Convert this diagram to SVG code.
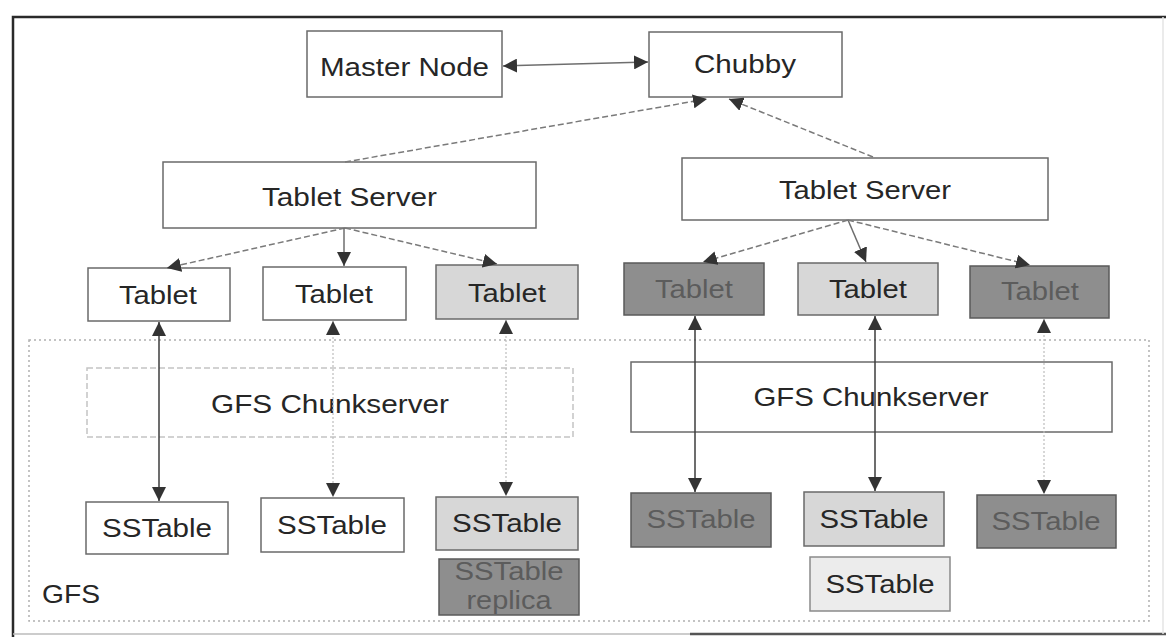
<svg xmlns="http://www.w3.org/2000/svg" width="1166" height="637" viewBox="0 0 1166 637">
<defs>
<style>
.box{fill:#fff;stroke:#6a6a6a;stroke-width:1.5}
.light{fill:#d7d7d7;stroke:#6a6a6a;stroke-width:1.5}
.vlight{fill:#ececec;stroke:#8a8a8a;stroke-width:1.5}
.dark{fill:#8e8e8e;stroke:#5a5a5a;stroke-width:1.5}
.faint{fill:#fff;stroke:#c4c4c4;stroke-width:1.5;stroke-dasharray:6 3}
.region{fill:none;stroke:#b0b0b0;stroke-width:1.5;stroke-dasharray:2 3}
text{font-family:"Liberation Sans",Arial,sans-serif;font-size:26px;fill:#262626;text-anchor:middle}
text.dk{fill:#5c5c5c}
.solid{stroke:#6e6e6e;stroke-width:1.5;fill:none}
.dash{stroke:#7a7a7a;stroke-width:1.5;stroke-dasharray:6 3;fill:none}
.vdark{stroke:#3c3c3c;stroke-width:1.5;fill:none}
.vfaint{stroke:#bdbdbd;stroke-width:1.2;stroke-dasharray:2 2;fill:none}
</style>
<marker id="ah" markerUnits="userSpaceOnUse" markerWidth="14" markerHeight="14" refX="12" refY="6" orient="auto-start-reverse" viewBox="0 0 12 12">
<path d="M0,0 L12,6 L0,12 z" fill="#333"/>
</marker>
</defs>
<rect x="0" y="0" width="1166" height="637" fill="#fff"/>
<g id="frame">
<path d="M13,637 V17 H1166" fill="none" stroke="#2a2a2a" stroke-width="2.5"/>
<path d="M13,634 H690" fill="none" stroke="#bbb" stroke-width="1.5"/>
<path d="M690,634 H1166" fill="none" stroke="#555" stroke-width="2.5"/>
<path d="M1163,17 V634" fill="none" stroke="#e4e4e4" stroke-width="1.5"/>
</g>
<g id="gfs">
<rect class="region" x="29" y="340" width="1120" height="281"/>
<text x="42" y="603" style="text-anchor:start" textLength="58" lengthAdjust="spacingAndGlyphs">GFS</text>
</g>
<g id="master"><rect class="box" x="307" y="31" width="195" height="66"/><text x="404.5" y="76" textLength="169" lengthAdjust="spacingAndGlyphs">Master Node</text></g>
<g id="chubby"><rect class="box" x="649" y="32" width="193" height="65"/><text x="745" y="73" textLength="102" lengthAdjust="spacingAndGlyphs">Chubby</text></g>
<g id="ts1"><rect class="box" x="163" y="162" width="373" height="66"/><text x="349.5" y="206" textLength="175" lengthAdjust="spacingAndGlyphs">Tablet Server</text></g>
<g id="ts2"><rect class="box" x="682" y="158" width="366" height="62"/><text x="865" y="199" textLength="172" lengthAdjust="spacingAndGlyphs">Tablet Server</text></g>
<g id="t1"><rect class="box" x="88" y="268" width="142" height="53"/><text x="158" y="304" textLength="78" lengthAdjust="spacingAndGlyphs">Tablet</text></g>
<g id="t2"><rect class="box" x="263" y="267" width="143" height="53"/><text x="334" y="303" textLength="78" lengthAdjust="spacingAndGlyphs">Tablet</text></g>
<g id="t3"><rect class="light" x="436" y="265" width="142" height="54"/><text x="507" y="302" textLength="78" lengthAdjust="spacingAndGlyphs">Tablet</text></g>
<g id="t4"><rect class="dark" x="624" y="263" width="140" height="52"/><text class="dk" x="694" y="298" textLength="78" lengthAdjust="spacingAndGlyphs">Tablet</text></g>
<g id="t5"><rect class="light" x="798" y="263" width="140" height="52"/><text x="868" y="298" textLength="78" lengthAdjust="spacingAndGlyphs">Tablet</text></g>
<g id="t6"><rect class="dark" x="970" y="266" width="139" height="52"/><text class="dk" x="1040" y="300" textLength="78" lengthAdjust="spacingAndGlyphs">Tablet</text></g>
<g id="cs1"><rect class="faint" x="87" y="368" width="486" height="69"/><text x="330" y="413" textLength="238" lengthAdjust="spacingAndGlyphs">GFS Chunkserver</text></g>
<g id="cs2"><rect class="box" x="631" y="362" width="481" height="70"/><text x="871" y="406" textLength="235" lengthAdjust="spacingAndGlyphs">GFS Chunkserver</text></g>
<g id="s1"><rect class="box" x="86" y="502" width="142" height="52"/><text x="157" y="537" textLength="110" lengthAdjust="spacingAndGlyphs">SSTable</text></g>
<g id="s2"><rect class="box" x="261" y="498" width="143" height="54"/><text x="332" y="534" textLength="110" lengthAdjust="spacingAndGlyphs">SSTable</text></g>
<g id="s3"><rect class="light" x="436" y="497" width="142" height="53"/><text x="507" y="532" textLength="110" lengthAdjust="spacingAndGlyphs">SSTable</text></g>
<g id="replica"><rect class="dark" x="439" y="559" width="140" height="56"/><text class="dk" x="509" y="580" textLength="109" lengthAdjust="spacingAndGlyphs">SSTable</text><text class="dk" x="509" y="609" textLength="85" lengthAdjust="spacingAndGlyphs">replica</text></g>
<g id="s4"><rect class="dark" x="631" y="493" width="140" height="54"/><text class="dk" x="701" y="528" textLength="109" lengthAdjust="spacingAndGlyphs">SSTable</text></g>
<g id="s5"><rect class="light" x="804" y="492" width="140" height="54"/><text x="874" y="528" textLength="109" lengthAdjust="spacingAndGlyphs">SSTable</text></g>
<g id="s6"><rect class="dark" x="977" y="495" width="139" height="53"/><text class="dk" x="1046" y="530" textLength="109" lengthAdjust="spacingAndGlyphs">SSTable</text></g>
<g id="s7"><rect class="vlight" x="810" y="557" width="140" height="54"/><text x="880" y="593" textLength="109" lengthAdjust="spacingAndGlyphs">SSTable</text></g>
<g id="connectors">
<path class="solid" d="M503,66 L648,62" marker-start="url(#ah)" marker-end="url(#ah)"/>
<path class="dash" d="M345,162 L707,99" marker-end="url(#ah)"/>
<path class="dash" d="M873,157 L729,99" marker-end="url(#ah)"/>
<path class="dash" d="M345,228 L167,268" marker-end="url(#ah)"/>
<path class="solid" d="M344,228 L344,266" marker-end="url(#ah)"/>
<path class="dash" d="M345,228 L497,264" marker-end="url(#ah)"/>
<path class="dash" d="M848,220 L703,262" marker-end="url(#ah)"/>
<path class="solid" d="M848,220 L866,262" marker-end="url(#ah)"/>
<path class="dash" d="M848,220 L1030,265" marker-end="url(#ah)"/>
<path class="vdark" d="M159,322 L159,501" marker-start="url(#ah)" marker-end="url(#ah)"/>
<path class="vfaint" d="M333,321 L333,497" marker-start="url(#ah)" marker-end="url(#ah)"/>
<path class="vfaint" d="M506,320 L506,496" marker-start="url(#ah)" marker-end="url(#ah)"/>
<path class="vdark" d="M695,316 L695,492" marker-start="url(#ah)" marker-end="url(#ah)"/>
<path class="vdark" d="M875,316 L875,491" marker-start="url(#ah)" marker-end="url(#ah)"/>
<path class="vfaint" d="M1044,319 L1044,494" marker-start="url(#ah)" marker-end="url(#ah)"/>
</g>
</svg>
